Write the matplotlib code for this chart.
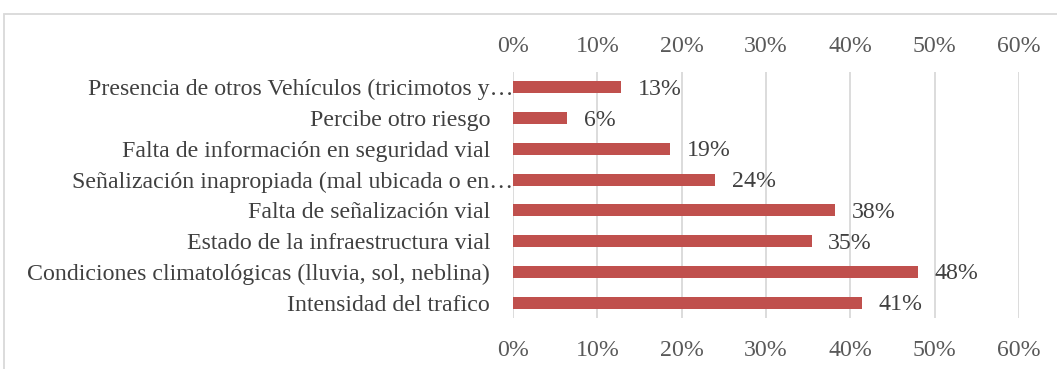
import matplotlib
matplotlib.use("Agg")
import matplotlib.pyplot as plt
from matplotlib.patches import Rectangle
from matplotlib.ticker import FuncFormatter
from matplotlib.transforms import ScaledTranslation

categories = [
    "Presencia de otros Vehículos (tricimotos y…",
    "Percibe otro riesgo",
    "Falta de información en seguridad vial",
    "Señalización inapropiada (mal ubicada o en…",
    "Falta de señalización vial",
    "Estado de la infraestructura vial",
    "Condiciones climatológicas (lluvia, sol, neblina)",
    "Intensidad del trafico",
]
values = [0.128, 0.064, 0.186, 0.240, 0.382, 0.354, 0.480, 0.414]
ticks = [0.0, 0.1, 0.2, 0.3, 0.4, 0.5, 0.6]

W, H = 1057, 369
plt.rcParams["font.family"] = ["Liberation Serif", "DejaVu Serif"]
fig = plt.figure(figsize=(W / 100, H / 100), dpi=100)

ax = fig.add_axes([513 / W, 1 - 318 / H, (1019 - 513) / W, (318 - 72) / H])

bar_color = "#C0504D"
text_color = "#404040"
tick_color = "#595959"
fs = 17.2

ypos = list(range(len(categories)))
ax.barh(ypos, values, height=0.39, color=bar_color, zorder=3)
ax.set_ylim(len(categories) - 0.5, -0.5)
ax.set_xlim(0, 0.6)

ax.set_yticks(ypos)
ax.set_yticklabels(categories, fontsize=fs, color=text_color)
ax.tick_params(axis="y", length=0, pad=16.5)
# truncated labels let their ellipsis run past the label column
for lbl in ax.get_yticklabels():
    if lbl.get_text().endswith("…"):
        lbl.set_transform(lbl.get_transform() + ScaledTranslation(23 / 100, 0, fig.dpi_scale_trans))

pct = FuncFormatter(lambda v, _: f"{round(v * 100)}%")
ax.set_xticks(ticks)
ax.xaxis.set_major_formatter(pct)
ax.tick_params(axis="x", length=0, labelsize=fs, labelcolor=tick_color, pad=16)

top = ax.secondary_xaxis("top")
top.set_xticks(ticks)
top.xaxis.set_major_formatter(pct)
top.tick_params(axis="x", length=0, labelsize=fs, labelcolor=tick_color, pad=11)
for s in top.spines.values():
    s.set_visible(False)

ax.grid(axis="x", color="#D9D9D9", linewidth=1.3, zorder=0)
for s in ax.spines.values():
    s.set_visible(False)

for y, v in zip(ypos, values):
    ax.annotate(f"{round(v * 100)}%", (v, y), xytext=(12, -1.5),
                textcoords="offset points", ha="left", va="center",
                fontsize=fs, color=text_color)

fig.patches.append(Rectangle((4 / W, -0.1), 1.2, 1.1 - 14 / H, transform=fig.transFigure,
                             fill=False, edgecolor="#D9D9D9", linewidth=1.3))

fig.savefig("out.png", dpi=100, facecolor="white")
